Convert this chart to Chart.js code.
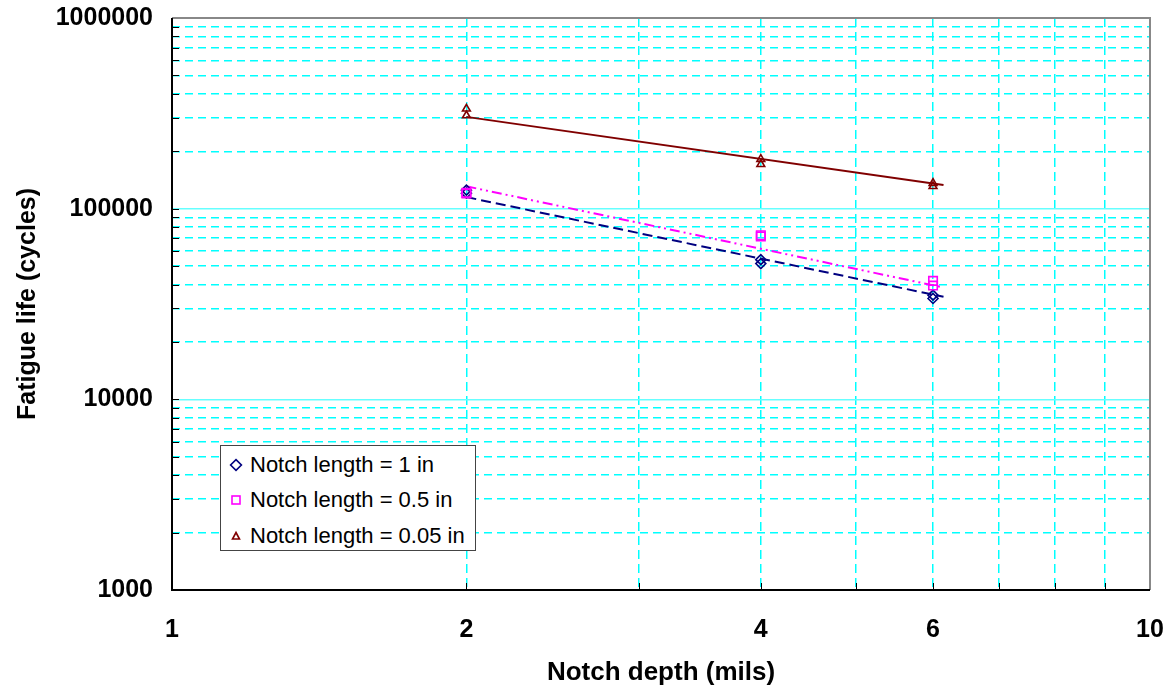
<!DOCTYPE html>
<html lang="en">
<head>
    <meta charset="UTF-8">
    <title>Fatigue life vs notch depth</title>
    <script src="https://cdn.jsdelivr.net/npm/chart.js@4.4.1/dist/chart.umd.min.js"></script>
    <style>
        body {
            margin: 0;
            background: #fff;
        }
        #wrap {
            position: relative;
            width: 1173px;
            height: 691px;
        }
        #legend {
            position: absolute;
            left: 220px;
            top: 445px;
            width: 254px;
            height: 104px;
            border: 1px solid #444;
            background: #fff;
            font-family: "Liberation Sans", Arial, sans-serif;
            font-size: 22px;
            color: #000;
        }
        .row {
            position: absolute;
            left: 0;
            height: 30px;
            line-height: 30px;
            white-space: nowrap;
        }
        .row svg {
            position: absolute;
            left: 8px;
            top: 8px;
        }
        .row span {
            position: absolute;
            left: 29px;
        }
    </style>
</head>
<body>
<div id="wrap">
    <canvas id="fatigueChart" width="1173" height="691"></canvas>
    <div id="legend"></div>
</div>
<script>
    // measured specimens: two per notch depth
    const depth = [2, 2, 4, 4, 6, 6];
    const life1in = [125000, 120500, 54000, 51500, 35200, 33800];
    const life05in = [121000, 120000, 72500, 71500, 41800, 39500];
    const life005in = [334000, 308000, 182000, 171000, 136000, 131000];

    // power-law trend lines, end values
    const trendDepth = [2, 6.15];
    const trend1in = [115000, 34500];
    const trend05in = [131000, 38600];
    const trend005in = [303000, 133000];

    const seriesLabels = ['Notch length = 1 in', 'Notch length = 0.5 in', 'Notch length = 0.05 in'];

    const xTicks = [1, 2, 3, 4, 5, 6, 7, 8, 9, 10];
    const xLabelled = [1, 2, 4, 6, 10];
    const yTicks = [1000, 2000, 3000, 4000, 5000, 6000, 7000, 8000, 9000,
                    10000, 20000, 30000, 40000, 50000, 60000, 70000, 80000, 90000,
                    100000, 200000, 300000, 400000, 500000, 600000, 700000, 800000, 900000,
                    1000000];
    const yLabelled = [1000, 10000, 100000, 1000000];

    const pts = (xs, ys) => xs.map((x, i) => ({x: x, y: ys[i]}));

    const FONT = '"Liberation Sans", Arial, sans-serif';
    const CYAN = '#00ffff';

    const markerSet = (label, data, color, style, radius, order) => ({
        label: label,
        data: data,
        pointStyle: style,
        pointRadius: radius,
        pointHoverRadius: radius,
        pointBorderWidth: 1.6,
        borderColor: color,
        backgroundColor: 'rgba(0,0,0,0)',
        showLine: false,
        order: order
    });

    const trendSet = (data, color, dash) => ({
        label: '',
        data: data,
        showLine: true,
        pointRadius: 0,
        borderColor: color,
        borderWidth: 2,
        borderDash: dash,
        fill: false,
        order: 3
    });

    const isDecade = v => [1, 10, 1000, 10000, 100000, 1000000].includes(v);

    // frame and inward tick marks
    const framePlugin = {
        id: 'frame',
        afterDraw(chart) {
            const {ctx, chartArea: a, scales} = chart;
            ctx.save();
            ctx.lineWidth = 1;
            ctx.strokeStyle = '#000';
            ctx.beginPath();
            xTicks.forEach(v => {
                const px = Math.round(scales.x.getPixelForValue(v)) + 0.5;
                ctx.moveTo(px, a.bottom);
                ctx.lineTo(px, a.bottom - 7);
            });
            yTicks.forEach(v => {
                const py = Math.round(scales.y.getPixelForValue(v)) + 0.5;
                ctx.moveTo(a.left, py);
                ctx.lineTo(a.left + 7, py);
            });
            ctx.stroke();

            ctx.lineWidth = 2;
            ctx.strokeStyle = '#888';
            ctx.beginPath();
            ctx.moveTo(a.left, a.top);
            ctx.lineTo(a.right, a.top);
            ctx.lineTo(a.right, a.bottom);
            ctx.stroke();
            ctx.strokeStyle = '#000';
            ctx.beginPath();
            ctx.moveTo(a.left, a.top);
            ctx.lineTo(a.left, a.bottom);
            ctx.lineTo(a.right, a.bottom);
            ctx.stroke();
            ctx.restore();
        }
    };

    // keep the plot box fixed, ignore label overhang
    const noOverhang = s => {
        s.paddingTop = 0;
        s.paddingBottom = 0;
        s.paddingLeft = 0;
        s.paddingRight = 0;
    };

    const chart = new Chart(document.getElementById('fatigueChart'), {
        type: 'scatter',
        data: {
            datasets: [
                markerSet(seriesLabels[0], pts(depth, life1in), '#000080', 'rectRot', 5, 2),
                markerSet(seriesLabels[1], pts(depth, life05in), '#ff00ff', 'rect', 6, 1),
                markerSet(seriesLabels[2], pts(depth, life005in), '#800000', 'triangle', 4.5, 2),
                trendSet(pts(trendDepth, trend1in), '#000080', [10, 5]),
                trendSet(pts(trendDepth, trend05in), '#ff00ff', [10, 4, 2, 4, 2, 4]),
                trendSet(pts(trendDepth, trend005in), '#800000', [])
            ]
        },
        options: {
            responsive: false,
            animation: false,
            layout: {
                padding: {top: 18, right: 23, left: 0, bottom: 0}
            },
            plugins: {
                legend: {display: false},
                tooltip: {enabled: false}
            },
            scales: {
                x: {
                    type: 'logarithmic',
                    position: 'bottom',
                    min: 1,
                    max: 10,
                    afterBuildTicks: s => { s.ticks = xTicks.map(v => ({value: v})); },
                    afterFit: s => { s.height = 101; noOverhang(s); },
                    grid: {
                        color: CYAN,
                        lineWidth: 1.5,
                        drawTicks: false
                    },
                    border: {
                        display: false,
                        dash: [9, 5]
                    },
                    ticks: {
                        autoSkip: false,
                        maxRotation: 0,
                        padding: 25,
                        color: '#000',
                        font: {family: FONT, size: 25, weight: 'bold'},
                        callback: v => xLabelled.includes(v) ? String(v) : ''
                    },
                    title: {
                        display: true,
                        text: 'Notch depth (mils)',
                        color: '#000',
                        font: {family: FONT, size: 26, weight: 'bold'},
                        padding: {top: 0, bottom: 3}
                    }
                },
                y: {
                    type: 'logarithmic',
                    position: 'left',
                    min: 1000,
                    max: 1000000,
                    afterBuildTicks: s => { s.ticks = yTicks.map(v => ({value: v})); },
                    afterFit: s => { s.width = 172; noOverhang(s); },
                    grid: {
                        color: c => (c.tick && isDecade(c.tick.value)) ? '#66ffff' : CYAN,
                        lineWidth: 1.5,
                        drawTicks: false
                    },
                    border: {
                        display: false,
                        dash: c => (c.tick && isDecade(c.tick.value)) ? [] : [8, 5]
                    },
                    ticks: {
                        autoSkip: false,
                        padding: 19,
                        color: '#000',
                        font: {family: FONT, size: 25, weight: 'bold'},
                        callback: v => yLabelled.includes(v) ? String(v) : ''
                    },
                    title: {
                        display: true,
                        text: 'Fatigue life (cycles)',
                        color: '#000',
                        font: {family: FONT, size: 25, weight: 'bold'},
                        padding: {top: 13, bottom: 0}
                    }
                }
            }
        },
        plugins: [framePlugin]
    });

    // legend box drawn from the marker datasets
    const glyph = {
        rectRot: c => `<polygon points="7,1.6 12.4,7 7,12.4 1.6,7" fill="none" stroke="${c}" stroke-width="1.6"/>`,
        rect: c => `<rect x="3" y="3" width="8" height="8" fill="none" stroke="${c}" stroke-width="1.6"/>`,
        triangle: c => `<polygon points="7,3.5 10.5,10 3.5,10" fill="none" stroke="${c}" stroke-width="1.6"/>`
    };
    const rowTops = [4, 39, 75];
    document.getElementById('legend').innerHTML = chart.data.datasets
        .filter(d => !d.showLine)
        .map((d, i) => `<div class="row" style="top:${rowTops[i]}px">` +
            `<svg width="14" height="14">${glyph[d.pointStyle](d.borderColor)}</svg>` +
            `<span>${d.label}</span></div>`)
        .join('');
</script>
</body>
</html>
